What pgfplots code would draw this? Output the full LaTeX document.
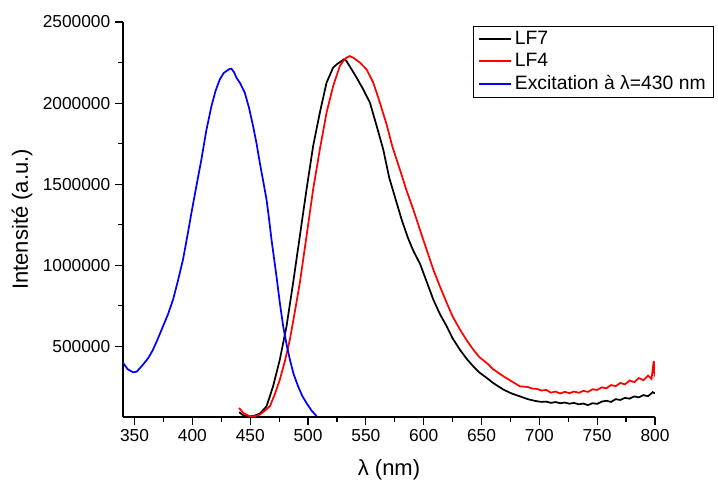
\documentclass[border=0pt]{standalone}
\usepackage{pgfplots}
\pgfplotsset{compat=1.18}
\usepackage{fontspec}
\setmainfont{Liberation Sans}

\begin{document}
\begin{tikzpicture}[font=\fontsize{13}{15}\selectfont]
\begin{axis}[
  scale only axis,
  width=399pt, height=296.25pt,
  xmin=340, xmax=800,
  ymin=65000, ymax=2500000,
  axis x line*=bottom, axis y line*=left,
  axis line style={line width=0.9pt},
  tick align=outside,
  major tick length=6pt, minor tick length=3.5pt,
  every tick/.style={line width=0.9pt, black},
  xtick={350,400,...,800},
  ytick={500000,1000000,1500000,2000000,2500000},
  minor x tick num=1, minor y tick num=1,
  scaled y ticks=false,
  /pgf/number format/assume math mode=true,
  yticklabel style={/pgf/number format/fixed, /pgf/number format/1000 sep={}},
  xticklabel style={/pgf/number format/1000 sep={}},
  xlabel={λ (nm)},
  ylabel={Intensité (a.u.)},
  label style={font=\fontsize{16.5}{19}\selectfont},
  xlabel style={yshift=-6pt},
  ylabel style={yshift=1pt},
  legend cell align=left,
  legend style={at={(0.657,0.99)}, anchor=north west, draw=black, line width=0.6pt,
    font=\fontsize{14.5}{17}\selectfont, row sep=1pt, inner xsep=4pt, inner ysep=2pt},
  legend image code/.code={\draw[#1, line width=1.3pt] (0cm,0cm) -- (0.85cm,0cm);},
  clip=true,
]
\addplot[black, line width=1.3pt] coordinates {
(440.4,95000) (444,75000) (449.6,69000) (454,74000) (458.3,85700) (464.1,130700)
(469.8,254000) (475.6,419000) (481.4,624000) (487.1,892000) (492.9,1180000)
(498.7,1468000) (504.4,1735000) (510.2,1941000) (516.0,2126000) (521.7,2219000)
(525,2240000) (528,2255000) (531,2270000) (533,2262000) (536.2,2225000)
(542.0,2157000) (547.7,2085000) (553.5,2003000) (559.3,1860000)
(565.0,1715000) (570.2,1540000) (576.6,1386000) (581,1280000) (586.6,1165000)
(591,1090000) (596.8,1010000) (602,910000) (608.3,789000) (614,700000) (619.9,624000)
(625,550000) (631.4,479000) (637,425000) (642.9,377000) (648,340000)
(654.5,306000) (660,275000) (668.9,234000) (676,210000) (683.3,192000) (690,175000)
(694,168000) (698,162000) (702,158000) (706,160000) (710,152000) (714,157000)
(718,150000) (722,154000) (726,147000) (730,152000) (734,143000) (738,148000)
(742,138000) (746,150000) (750,146000) (754,160000) (758,165000) (762,158000)
(766,175000) (770,170000) (774,183000) (778,178000) (782,192000) (786,186000)
(790,200000) (794,193000) (798,218000) (800,210000)
};
\addlegendentry{LF7}
\addplot[red, line width=1.3pt] coordinates {
(440.4,120900) (444,90000) (449.6,69000) (454,70000) (458.3,79500) (462,100000) (467.0,130700)
(471,200000) (475.6,295000) (480,410000) (484.3,542000) (488.5,710000) (492.9,892000) (498.7,1180000) (504.4,1468000)
(510.2,1715000) (516.0,1941000) (521.7,2105000) (527.5,2229000) (531,2265000)
(533.3,2280000) (536,2290000) (539.0,2280000) (544.8,2250000) (550.6,2208000)
(556.4,2126000) (562.1,2003000) (567.9,1869000) (573,1730000) (579.4,1591000) (585,1465000) (591.0,1344000)
(599.6,1159000) (608.3,974000) (614,870000) (619.9,769000) (625,685000) (631.4,604000) (637,540000) (642.9,480000)
(648,435000) (654.5,398000) (660,360000) (668.9,316000) (676,285000) (683.3,254000) (690,250000)
(694,240000) (698,238000) (702,228000) (706,232000) (710,215000) (714,222000)
(718,210000) (722,220000) (726,212000) (730,222000) (734,214000) (738,226000)
(742,220000) (746,236000) (750,232000) (754,248000) (758,242000) (762,262000)
(766,255000) (770,275000) (774,266000) (778,290000) (782,280000) (786,305000)
(790,292000) (794,320000) (797,300000) (798,360000) (799,410000) (799.5,330000) (800,340000)
};
\addlegendentry{LF4}
\addplot[blue, line width=1.3pt] coordinates {
(340,400000) (344,360000) (348.7,340500) (352,345000) (357.3,388000) (362,430000) (366.0,480500)
(370,545000) (374.6,624000) (379,700000) (383.3,789000) (387.5,905000) (391.9,1036000) (395.5,1175000) (399.2,1324000) (403.5,1490000) (407.8,1653000)
(412,1830000) (416.5,1982000) (420,2075000) (423.7,2146000) (427,2185000) (429.5,2198000) (432,2210000) (433.8,2212000) (436,2190000) (438.1,2157000)
(441.5,2120000) (445.3,2064000) (449,1970000) (452.5,1858000) (455.5,1750000) (458.3,1632000) (461.2,1520000) (464.1,1406000) (466.3,1285000) (468.4,1159000)
(472.7,933000) (475.5,775000) (478.5,624000) (481.5,510000) (484.3,419000) (487.5,330000) (491.4,254000) (495,195000) (498.7,151000)
(503,105000) (507.4,70000)
};
\addlegendentry{Excitation à λ=430 nm}
\end{axis}
\path (current axis.south west) ++(-92.25pt,-50.25pt) rectangle ++(538.5pt,363pt);
\end{tikzpicture}
\end{document}
